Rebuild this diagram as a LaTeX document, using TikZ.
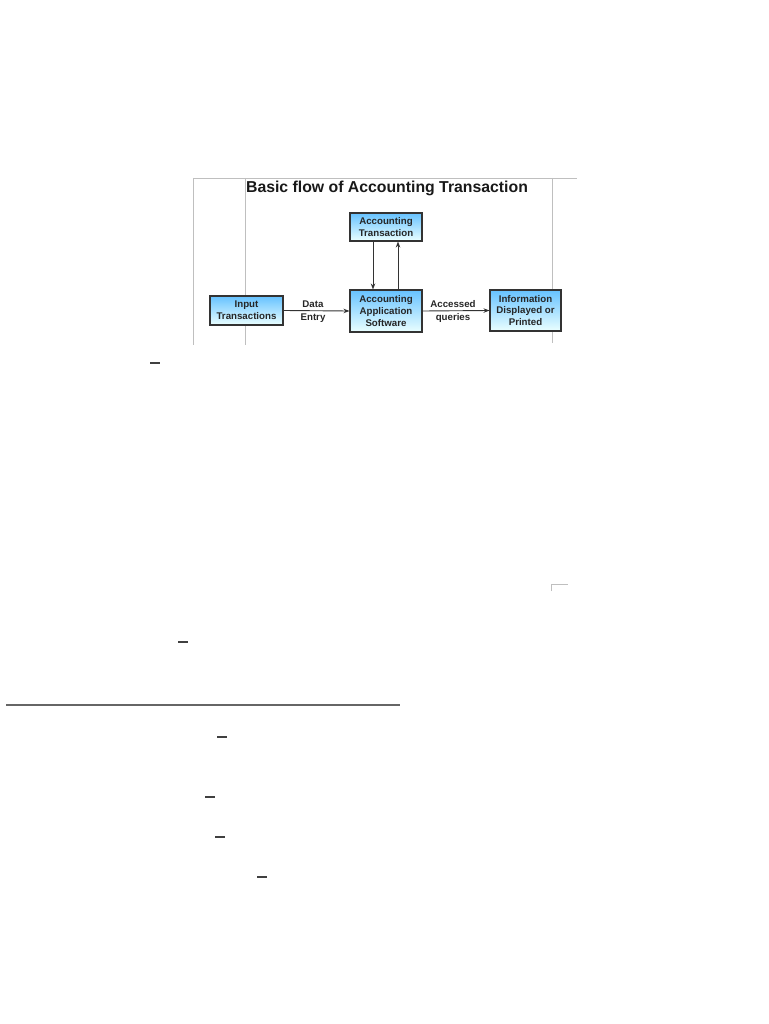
\documentclass[tikz,border=0pt]{standalone}
\usepackage{fontspec}
\setmainfont{Liberation Sans}
\usetikzlibrary{arrows.meta,shadows}
\tikzset{
  flowbox/.style={draw=black!80, line width=1.1pt, top color=cyan!60!blue!60!white, bottom color=cyan!8!white,
    align=center, inner sep=1pt, font=\fontsize{9.7}{11.8}\selectfont\bfseries, text=black!85,
    drop shadow={shadow xshift=0.8pt, shadow yshift=0.8pt, opacity=0.5}},
  flowlabel/.style={align=center, font=\fontsize{9.7}{12.8}\selectfont\bfseries, text=black!85},
  flowarrow/.style={-{Stealth[length=6pt,width=4.5pt]}, line width=0.9pt, draw=black!80},
  frameline/.style={draw=black!25, line width=0.7pt},
  dashmark/.style={draw=black!75, line width=1.2pt},
}
\begin{document}
\begin{tikzpicture}[x=1pt,y=-1pt]
\useasboundingbox (0,0) rectangle (768,1024);
% frame of the embedded picture
\draw[frameline] (193,178) -- (577,178);
\draw[frameline] (193,178) -- (193,345);
\draw[frameline] (245,178) -- (245,345);
\draw[frameline] (552,178) -- (552,343);
% title
\node[font=\fontsize{15.8}{18}\selectfont\bfseries, text=black!90] (title) at (387,188.5) {Basic flow of Accounting Transaction};
% boxes
\node[flowbox, minimum width=73pt, minimum height=29pt] (inp) at (246.5,310.5) {Input\\Transactions};
\node[flowbox, minimum width=72pt, minimum height=28pt] (acct) at (386,227) {Accounting\\Transaction};
\node[flowbox, minimum width=72pt, minimum height=42pt] (aas) at (386,311) {Accounting\\Application\\Software};
\node[flowbox, minimum width=71pt, minimum height=41pt] (info) at (525.5,310.5) {Information\\Displayed or\\Printed};
% labels
\node[flowlabel] (dataentry) at (313,311.5) {Data\\Entry};
\node[flowlabel] (accq) at (453,311.5) {Accessed\\queries};
% connectors
\draw[flowarrow] (inp.east) -- (aas.west);
\draw[flowarrow] (aas.east) -- (info.west);
\draw[flowarrow] ([xshift=-13pt]acct.south) -- ([xshift=-13pt]aas.north);
\draw[flowarrow] ([xshift=12pt]aas.north) -- ([xshift=12pt]acct.south);
% page marks
\draw[dashmark] (150,363) -- (160,363);
\draw[dashmark] (178,642) -- (188,642);
\draw[dashmark] (217,737) -- (227,737);
\draw[dashmark] (205,797) -- (215,797);
\draw[dashmark] (215,837) -- (225,837);
\draw[dashmark] (257,877) -- (267,877);
\draw[draw=black!60, line width=1.3pt] (6,705) -- (400,705);
\draw[frameline] (551,591) -- (551,584) -- (568,584);
\end{tikzpicture}
\end{document}
